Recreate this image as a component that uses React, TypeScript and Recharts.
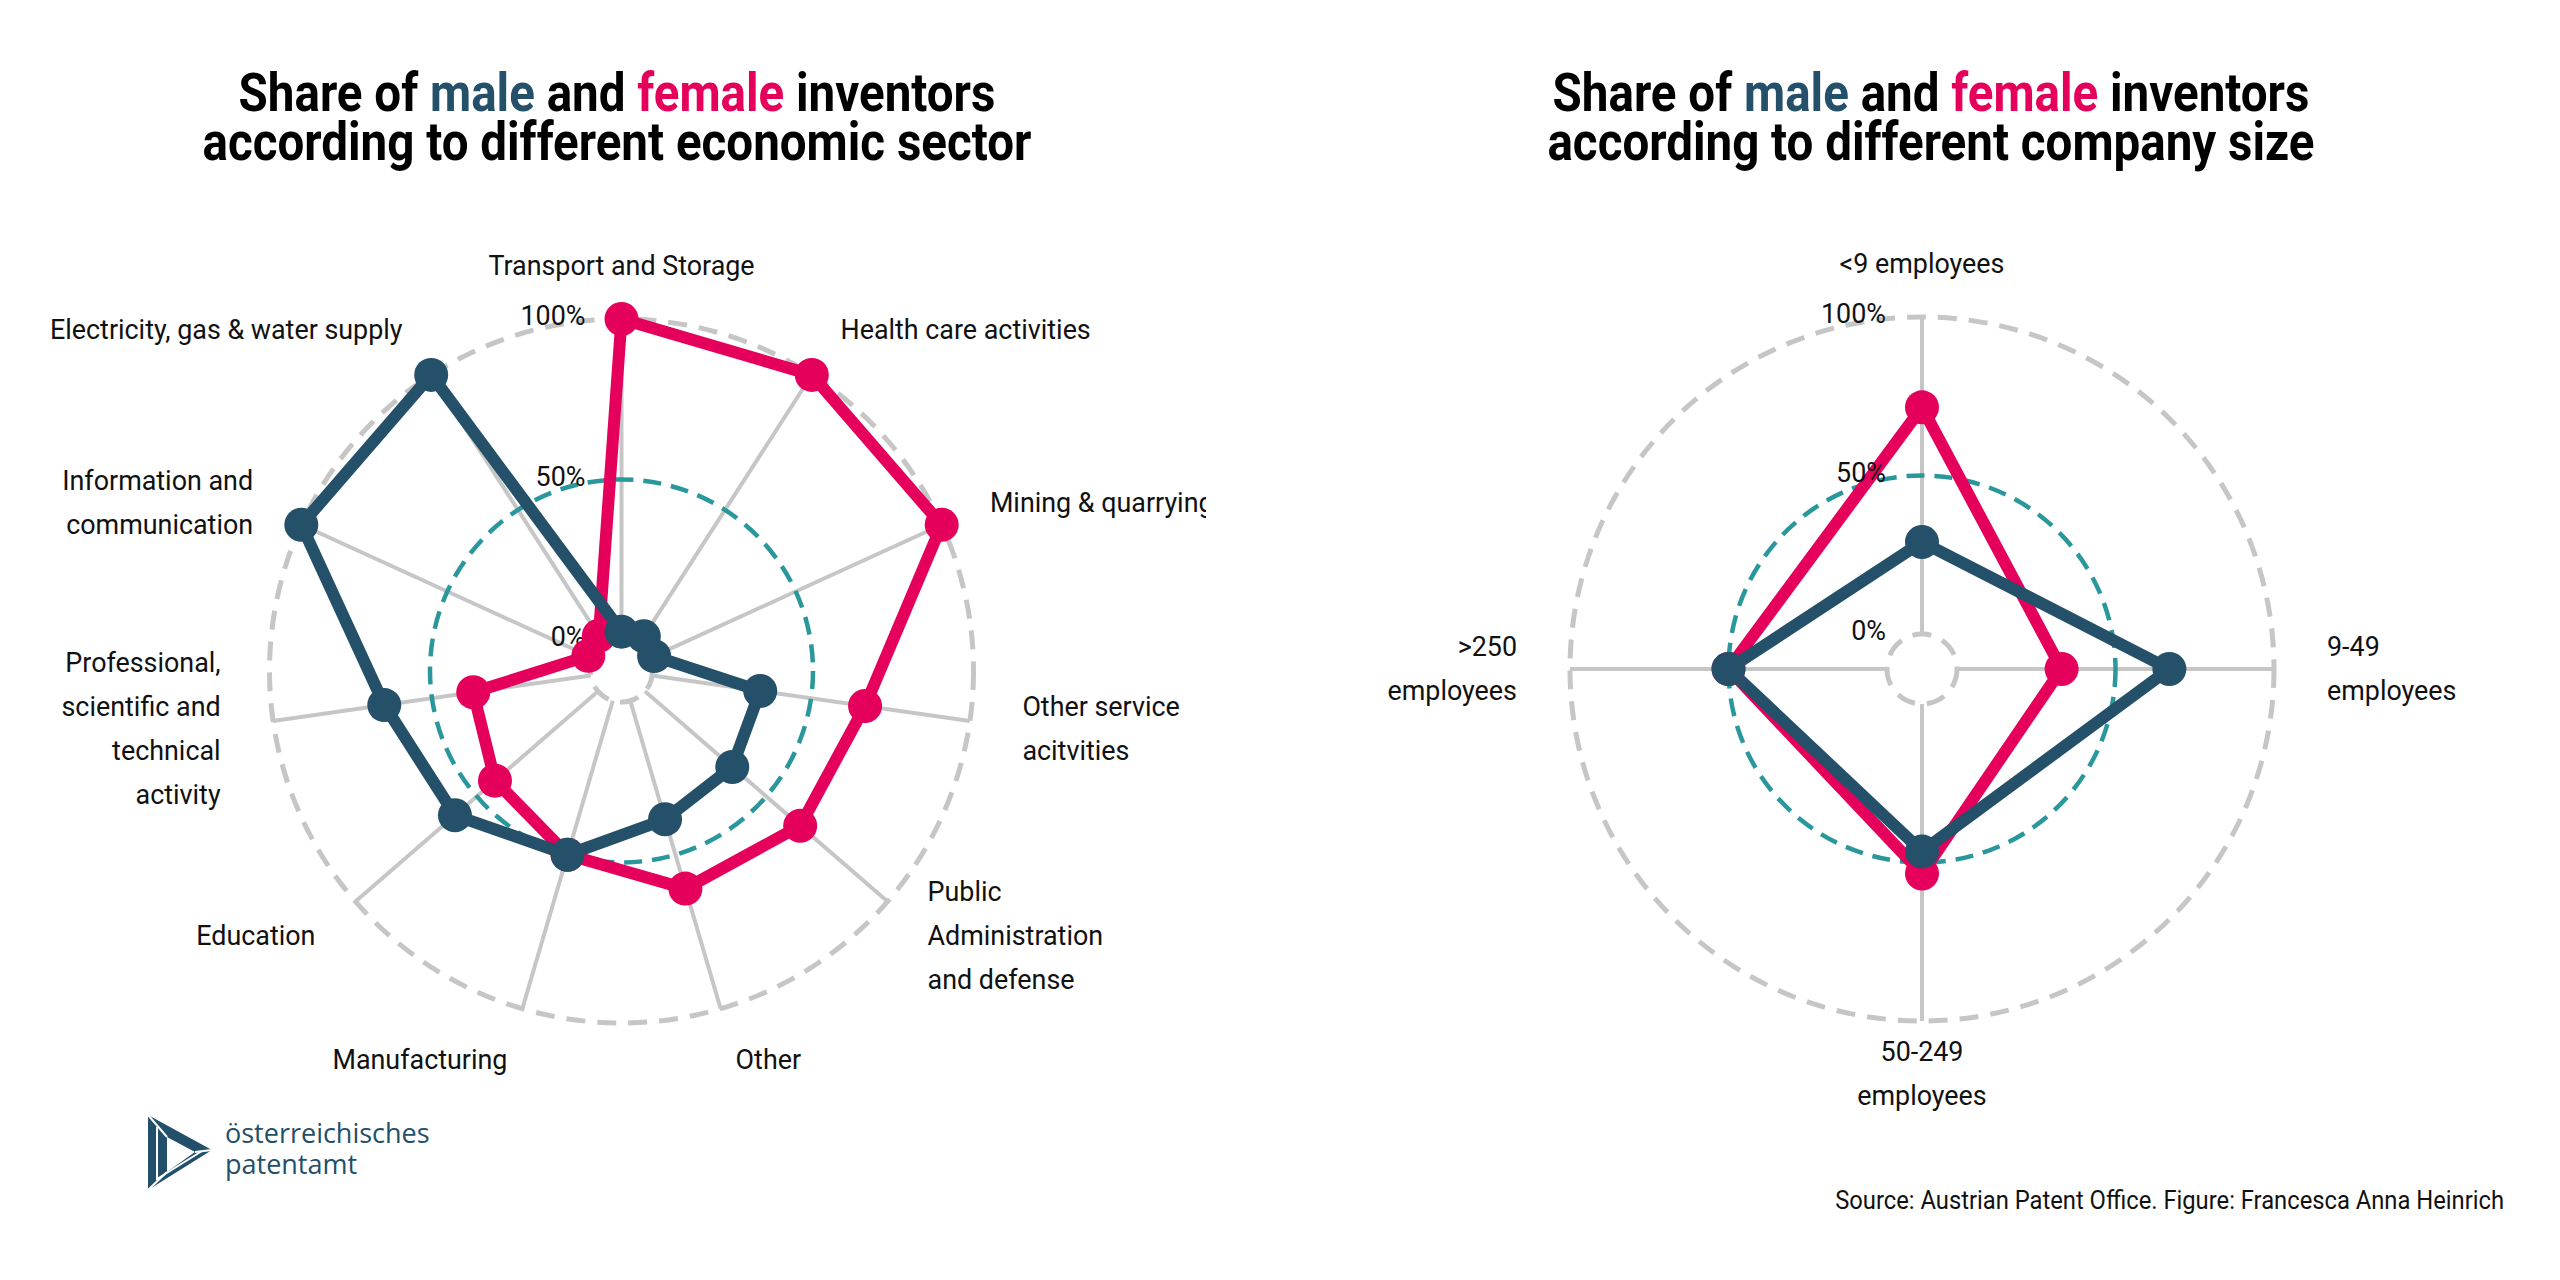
import React from 'react';
import { RadarChart, Radar, PolarGrid, PolarAngleAxis, PolarRadiusAxis } from 'recharts';

const MALE = '#245169';
const FEMALE = '#e5005b';
const TEAL = '#2a979d';
const GRID = '#c6c6c6';
const FONT = 'Roboto, "Liberation Sans", sans-serif';

// economic sectors, clockwise from the top ("\n" breaks the label)
const sectors = [
  'Transport and Storage',
  'Health care activities',
  'Mining & quarrying',
  'Other service\nacitvities',
  'Public\nAdministration\nand defense',
  'Other',
  'Manufacturing',
  'Education',
  'Professional,\nscientific and\ntechnical\nactivity',
  'Information and\ncommunication',
  'Electricity, gas & water supply',
];
const sectorMale = [2.6, 3.2, 1.5, 34, 36, 38.5, 50, 59, 65, 100, 100];
const sectorFemale = [100, 100, 100, 67, 64, 61, 50, 42.5, 37, 1.7, 3.4];

// company sizes, clockwise from the top
const sizes = ['<9 employees', '9-49\nemployees', '50-249\nemployees', '>250\nemployees'];
const sizeMale = [29, 67, 46.5, 50];
const sizeFemale = [71.5, 33, 53.5, 50];

const radiusTicks = [0, 50, 100];

const CHART_H = 1000;
const OUTER = 352;

// the 50% ring is teal, the 0% and 100% rings stay grey
const gridCss = `
.spider .recharts-polar-grid-concentric circle:nth-of-type(2) {
  stroke: ${TEAL};
  stroke-dasharray: 18 10;
  stroke-width: 4.5px;
}
`;

function AngleTick(props: any) {
  const { x, y, payload } = props;
  const a = (payload.coordinate * Math.PI) / 180;
  const cos = Math.cos(a);
  const sin = Math.sin(a);
  // push the label out from the tick end
  const px = x + 45 * cos;
  const py = y - 45 * sin;
  const anchor = Math.abs(cos) < 0.05 ? 'middle' : cos > 0 ? 'start' : 'end';
  const lines = String(payload.value).split('\n');
  return (
    <text
      transform={`translate(${px},${py}) scale(0.96,1)`}
      textAnchor={anchor}
      dominantBaseline="central"
      fontFamily={FONT}
      fontSize={28}
      fill="#111"
    >
      {lines.map((l, i) => (
        <tspan key={i} x={0} y={(i - (lines.length - 1) / 2) * 44}>
          {l}
        </tspan>
      ))}
    </text>
  );
}

function RadiusTick(props: any) {
  const { x, y, payload } = props;
  return (
    <text
      transform={`translate(${x - 36},${y - 3}) scale(0.96,1)`}
      textAnchor="end"
      dominantBaseline="central"
      fontFamily={FONT}
      fontSize={28}
      fill="#111"
    >
      {payload.value}%
    </text>
  );
}

function SpiderChart({ categories, male, female, width, innerRadius }: any) {
  const data = categories.map((c: string, i: number) => ({ category: c, male: male[i], female: female[i] }));
  return (
    <div className="spider">
      <RadarChart
        width={width}
        height={CHART_H}
        data={data}
        margin={{ top: 0, right: 0, bottom: 0, left: 0 }}
        innerRadius={innerRadius}
        outerRadius={OUTER}
      >
        <PolarGrid gridType="circle" polarRadius={[]} stroke={GRID} strokeWidth={4} />
        <PolarGrid gridType="circle" radialLines={false} stroke={GRID} strokeWidth={5} strokeDasharray="19 12" />
        <PolarAngleAxis dataKey="category" tick={AngleTick} tickLine={false} axisLine={false} />
        <PolarRadiusAxis angle={90} domain={[0, 100]} ticks={radiusTicks} tick={RadiusTick} axisLine={false} tickLine={false} />
        <Radar
          dataKey="female"
          stroke={FEMALE}
          strokeWidth={12}
          strokeLinejoin="round"
          fill="none"
          dot={{ r: 17, fill: FEMALE, fillOpacity: 1, stroke: 'none' }}
          isAnimationActive={false}
        />
        <Radar
          dataKey="male"
          stroke={MALE}
          strokeWidth={12}
          strokeLinejoin="round"
          fill="none"
          dot={{ r: 17, fill: MALE, fillOpacity: 1, stroke: 'none' }}
          isAnimationActive={false}
        />
      </RadarChart>
    </div>
  );
}

function Title({ centerX, topic }: { centerX: number; topic: string }) {
  return (
    <div
      style={{
        position: 'absolute',
        left: centerX - 600,
        top: 69,
        width: 1200,
        textAlign: 'center',
        fontFamily: FONT,
        fontWeight: 700,
        fontSize: 54,
        lineHeight: '48.5px',
        color: '#000',
        transform: 'scaleX(0.88)',
        transformOrigin: 'center',
      }}
    >
      Share of <span style={{ color: MALE }}>male</span> and <span style={{ color: FEMALE }}>female</span> inventors
      <br />
      according to different {topic}
    </div>
  );
}

function Logo() {
  return (
    <svg style={{ position: 'absolute', left: 140, top: 1105 }} width={320} height={95}>
      <path d="M8 10 L72 45 L8 85 Z M27 32 L27 67 L55 47 Z" fill="#22506a" fillRule="evenodd" />
      <path d="M8 10 L27 32 M72 45 L55 47 M8 85 L27 67" stroke="#fff" strokeWidth={2} />
      <path d="M17 22 L17 74 L62 46" stroke="#fff" strokeWidth={2} fill="none" />
      <text x={85} y={38} fontFamily='"Open Sans", sans-serif' fontSize={27} fill="#22506a">
        österreichisches
      </text>
      <text x={85} y={69} fontFamily='"Open Sans", sans-serif' fontSize={27} fill="#22506a">
        patentamt
      </text>
    </svg>
  );
}

export default function App() {
  return (
    <div style={{ position: 'absolute', left: 0, top: 0, width: 2560, height: 1280, background: '#fff', overflow: 'hidden' }}>
      <style>{gridCss}</style>
      <Title centerX={617} topic="economic sector" />
      <Title centerX={1931} topic="company size" />
      <div style={{ position: 'absolute', left: 37, top: 670.5 - CHART_H / 2 }}>
        <SpiderChart categories={sectors} male={sectorMale} female={sectorFemale} width={1169} innerRadius={31} />
      </div>
      <div style={{ position: 'absolute', left: 1922 - 550, top: 668.5 - CHART_H / 2 }}>
        <SpiderChart categories={sizes} male={sizeMale} female={sizeFemale} width={1100} innerRadius={35} />
      </div>
      <Logo />
      <div
        style={{
          position: 'absolute',
          right: 2560 - 2504,
          top: 1188,
          fontFamily: FONT,
          fontSize: 25,
          lineHeight: '25px',
          color: '#111',
          whiteSpace: 'nowrap',
          transform: 'scaleX(0.95)',
          transformOrigin: 'right',
        }}
      >
        Source: Austrian Patent Office. Figure: Francesca Anna Heinrich
      </div>
    </div>
  );
}
